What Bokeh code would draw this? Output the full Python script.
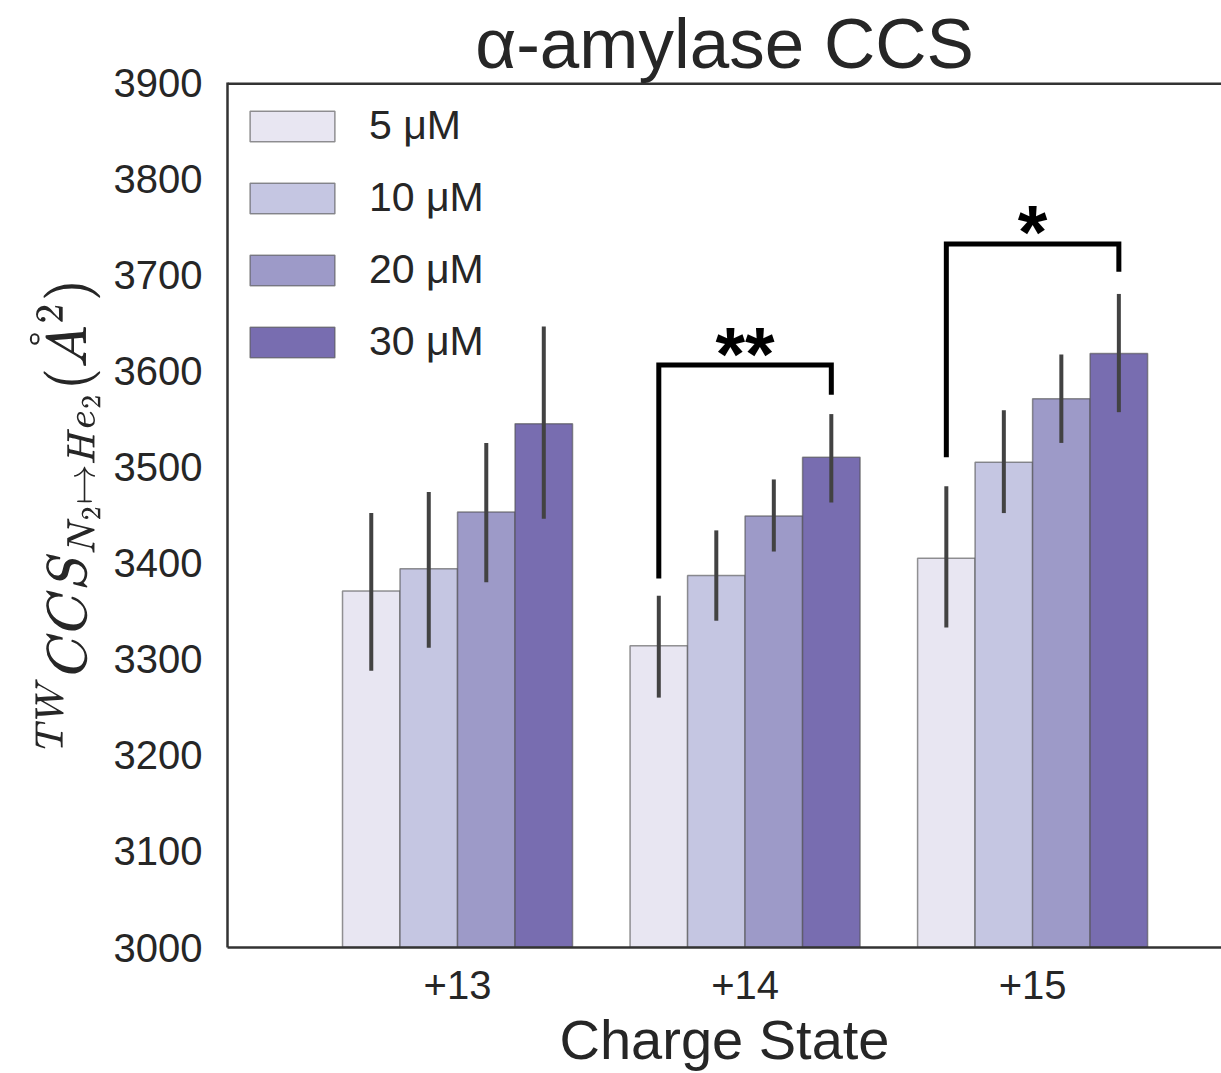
from bokeh.plotting import figure
from bokeh.models import (Range1d, FixedTicker, Legend, LegendItem,
                          ColumnDataSource, TeX, Span)
from bokeh.core.properties import value
from bokeh.embed import file_html
from bokeh.resources import INLINE

# ---------------- data ----------------
charge_states = ["+13", "+14", "+15"]
concentrations = ["5 μM", "10 μM", "20 μM", "30 μM"]

mean_5uM = [3371, 3314, 3405]
low_5uM = [3288, 3260, 3333]
high_5uM = [3452, 3366, 3480]

mean_10uM = [3394, 3387, 3505]
low_10uM = [3312, 3340, 3452]
high_10uM = [3474, 3434, 3559]

mean_20uM = [3453, 3449, 3571]
low_20uM = [3380, 3412, 3525]
high_20uM = [3525, 3487, 3617]

mean_30uM = [3545, 3510, 3618]
low_30uM = [3446, 3463, 3557]
high_30uM = [3646, 3555, 3680]

# significance brackets (between 5 uM and 30 uM bars)
sig_group = [1, 2]
sig_text = ["**", "*"]
sig_top = [3606, 3732]
sig_left_bottom = [3384, 3510]
sig_right_bottom = [3575, 3703]

y_ticks = [3000, 3100, 3200, 3300, 3400, 3500, 3600, 3700, 3800, 3900]

colors = ["#e8e6f2", "#c5c6e2", "#9d9ac8", "#786db0"]
FONT = "Liberation Sans"
TXT = "#262626"
SPINE = "#333333"

series = [
    (mean_5uM, low_5uM, high_5uM),
    (mean_10uM, low_10uM, high_10uM),
    (mean_20uM, low_20uM, high_20uM),
    (mean_30uM, low_30uM, high_30uM),
]

n_hue = len(concentrations)
bar_w = 0.8 / n_hue

p = figure(width=1221, height=1073, output_backend="svg", toolbar_location=None,
           x_range=Range1d(-0.8, 2.657), y_range=Range1d(3000, 3900),
           min_border_left=227, min_border_right=0, min_border_top=82,
           min_border_bottom=126)
p.outline_line_color = None
p.grid.visible = False
p.background_fill_color = "white"

# title
p.title.text = "α-amylase CCS"
p.title.align = "center"
p.title.text_font = FONT
p.title.text_font_size = "71px"
p.title.text_font_style = "normal"
p.title.text_color = TXT
p.title.standoff = 0

renderers = []
for j, (m, lo, hi) in enumerate(series):
    xs = [i + (j - (n_hue - 1) / 2) * bar_w for i in range(len(charge_states))]
    src = ColumnDataSource(dict(x=xs, top=m, lo=lo, hi=hi))
    r = p.vbar(x="x", top="top", bottom=3000, width=bar_w, source=src,
               fill_color=colors[j], line_color="#4d4d4d", line_alpha=0.6,
               line_width=1.5)
    renderers.append(r)
    p.segment(x0="x", y0="lo", x1="x", y1="hi", source=src,
              line_color="#424242", line_width=4)

# significance brackets
for g, t, top, lb, rb in zip(sig_group, sig_text, sig_top, sig_left_bottom, sig_right_bottom):
    xl = g - 1.5 * bar_w
    xr = g + 1.5 * bar_w
    p.line(x=[xl, xl, xr, xr], y=[lb, top, top, rb], line_color="black",
           line_width=5, line_join="miter")
    p.text(x=[g], y=[top], text=[t], text_align="center",
           text_baseline="alphabetic", y_offset=-12,
           text_font=value(FONT), text_font_style="bold",
           text_font_size="76px", text_color="black")

# top spine
p.add_layout(Span(location=3900, dimension="width", line_color=SPINE, line_width=5))

# axes
p.xaxis.ticker = FixedTicker(ticks=list(range(len(charge_states))))
p.xaxis.major_label_overrides = {i: s for i, s in enumerate(charge_states)}
p.yaxis.ticker = FixedTicker(ticks=y_ticks)
for ax in (p.xaxis[0], p.yaxis[0]):
    ax.major_tick_line_color = None
    ax.minor_tick_line_color = None
    ax.axis_line_color = SPINE
    ax.axis_line_width = 2.5
    ax.major_label_text_font = FONT
    ax.major_label_text_font_size = "40px"
    ax.major_label_text_color = TXT
    ax.axis_label_text_font = FONT
    ax.axis_label_text_font_style = "normal"
    ax.axis_label_text_color = TXT
p.xaxis.major_label_standoff = 17
p.yaxis.major_label_standoff = 19
p.xaxis.axis_label = "Charge State"
p.xaxis.axis_label_text_font_size = "56px"
p.xaxis.axis_label_standoff = 6
p.yaxis.axis_label = TeX(text=r"^{TW}CCS_{N_2\mapsto He_2}(\mathring{A}^2)")
p.yaxis.axis_label_text_font_size = "46px"
p.yaxis.axis_label_standoff = 10

legend = Legend(items=[LegendItem(label=c, renderers=[r]) for c, r in zip(concentrations, renderers)],
                location=(12, 582), border_line_color=None, background_fill_alpha=0,
                label_text_font=FONT, label_text_font_size="41px", label_text_color=TXT,
                glyph_width=106, glyph_height=38, label_standoff=24, spacing=25,
                margin=0, padding=12)
p.add_layout(legend)

open("out.html", "w").write(file_html(p, INLINE))
